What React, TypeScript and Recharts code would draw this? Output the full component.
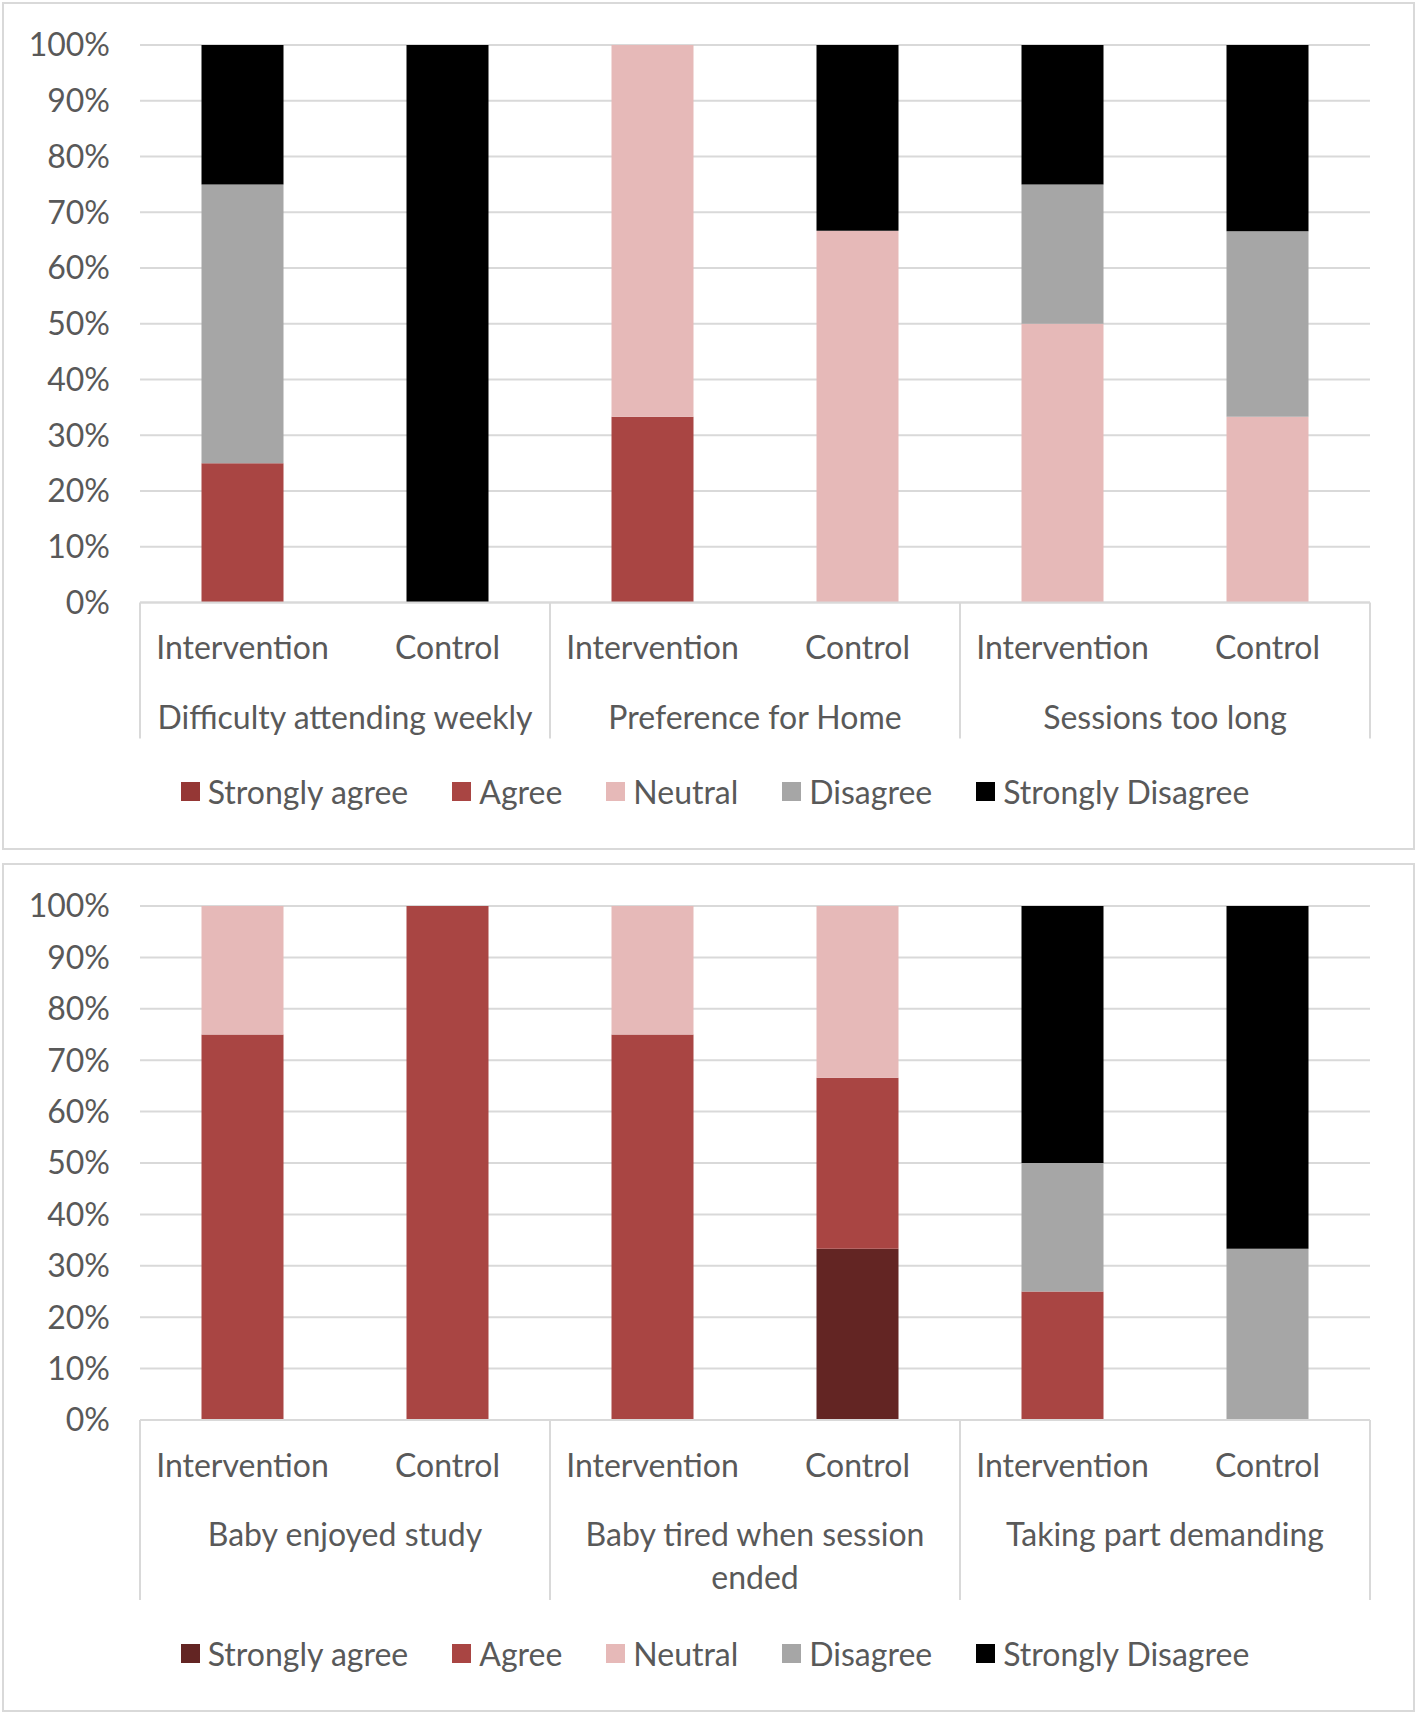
import React from 'react';
import { Bar, BarChart, CartesianGrid, XAxis, YAxis } from 'recharts';

const arms = ['Intervention', 'Control'];
const topGroups = ['Difficulty attending weekly', 'Preference for Home', 'Sessions too long'];
const bottomGroups = ['Baby enjoyed study', 'Baby tired when session\nended', 'Taking part demanding'];

const seriesNames = ['Strongly agree', 'Agree', 'Neutral', 'Disagree', 'Strongly Disagree'];
const topColors = ['#953735', '#A94543', '#E6B9B8', '#A6A6A6', '#000000'];
const bottomColors = ['#632523', '#A94543', '#E6B9B8', '#A6A6A6', '#000000'];

const yTicks = [0, 10, 20, 30, 40, 50, 60, 70, 80, 90, 100];

// bars in order: Int, Ctrl for each group (percent)
const topStronglyAgree = [0, 0, 0, 0, 0, 0];
const topAgree = [25, 0, 33.3, 0, 0, 0];
const topNeutral = [0, 0, 66.7, 66.7, 50, 33.3];
const topDisagree = [50, 0, 0, 0, 25, 33.3];
const topStronglyDisagree = [25, 100, 0, 33.3, 25, 33.4];

const bottomStronglyAgree = [0, 0, 0, 33.3, 0, 0];
const bottomAgree = [75, 100, 75, 33.3, 25, 0];
const bottomNeutral = [25, 0, 25, 33.4, 0, 0];
const bottomDisagree = [0, 0, 0, 0, 25, 33.3];
const bottomStronglyDisagree = [0, 0, 0, 0, 50, 66.7];

const FONT = "Lato, 'Open Sans', sans-serif";
const FS = 32;
const TEXT = '#595959';
const GRID = '#d9d9d9';
const CHART_W = 1418;
const PLOT_LEFT = 140;
const PLOT_RIGHT = 48;
const BAND = (CHART_W - PLOT_LEFT - PLOT_RIGHT) / 6;

function buildRows(groups: string[], series: number[][]) {
  return series[0].map((_, i) => {
    const row: Record<string, any> = {
      key: `b${i}`,
      arm: arms[i % 2],
      group: groups[Math.floor(i / 2)],
    };
    series.forEach((s, j) => {
      row[`s${j}`] = s[i];
    });
    return row;
  });
}

const topRows = buildRows(topGroups, [topStronglyAgree, topAgree, topNeutral, topDisagree, topStronglyDisagree]);
const bottomRows = buildRows(bottomGroups, [
  bottomStronglyAgree,
  bottomAgree,
  bottomNeutral,
  bottomDisagree,
  bottomStronglyDisagree,
]);

function makeTick(rows: Record<string, any>[], sepLen: number) {
  return (props: any) => {
    const { x, y, index } = props;
    const row = rows[index];
    if (!row) return <g />;
    const lines: string[] = row.group.split('\n');
    return (
      <g>
        <text
          x={x}
          y={y + 44}
          textAnchor="middle"
          dominantBaseline="central"
          fill={TEXT}
          fontSize={FS}
          fontFamily={FONT}
        >
          {row.arm}
        </text>
        {index % 2 === 0 && (
          <>
            <line x1={x - BAND / 2} x2={x - BAND / 2} y1={y} y2={y + sepLen} stroke={GRID} strokeWidth={2} />
            <text
              x={x + BAND / 2}
              y={y + 113}
              textAnchor="middle"
              dominantBaseline="central"
              fill={TEXT}
              fontSize={FS}
              fontFamily={FONT}
            >
              {lines.map((l, k) => (
                <tspan key={k} x={x + BAND / 2} dy={k === 0 ? 0 : 43}>
                  {l}
                </tspan>
              ))}
            </text>
          </>
        )}
        {index === rows.length - 1 && (
          <line x1={x + BAND / 2} x2={x + BAND / 2} y1={y} y2={y + sepLen} stroke={GRID} strokeWidth={2} />
        )}
      </g>
    );
  };
}

function Legend({ colors, top }: { colors: string[]; top: number }) {
  return (
    <div
      style={{
        position: 'absolute',
        left: 6,
        top,
        width: CHART_W,
        height: 40,
        display: 'flex',
        alignItems: 'center',
        justifyContent: 'center',
        gap: 44,
        fontFamily: FONT,
        fontSize: FS,
        color: TEXT,
      }}
    >
      {seriesNames.map((n, i) => (
        <div key={n} style={{ display: 'flex', alignItems: 'center' }}>
          <span style={{ width: 19, height: 19, background: colors[i], marginRight: 8, display: 'inline-block' }} />
          <span>{n}</span>
        </div>
      ))}
    </div>
  );
}

function Panel({
  rows,
  colors,
  height,
  bottom,
  sepLen,
}: {
  rows: Record<string, any>[];
  colors: string[];
  height: number;
  bottom: number;
  sepLen: number;
}) {
  return (
    <BarChart
      width={CHART_W}
      height={height}
      data={rows}
      margin={{ top: 45, right: PLOT_RIGHT, left: PLOT_LEFT - 100, bottom }}
      barCategoryGap="30%"
    >
      <CartesianGrid vertical={false} stroke={GRID} strokeWidth={2} />
      <XAxis
        dataKey="key"
        interval={0}
        height={140}
        tickLine={false}
        tickSize={0}
        tickMargin={0}
        axisLine={{ stroke: GRID, strokeWidth: 2 }}
        tick={makeTick(rows, sepLen)}
      />
      <YAxis
        width={100}
        domain={[0, 100]}
        ticks={yTicks}
        tickFormatter={(v: number) => `${v}%`}
        axisLine={false}
        tickLine={false}
        tickSize={0}
        tickMargin={30}
        tick={{ fill: TEXT, fontSize: FS, fontFamily: FONT }}
      />
      {seriesNames.map((n, j) => (
        <Bar key={n} dataKey={`s${j}`} name={n} stackId="a" fill={colors[j]} isAnimationActive={false} />
      ))}
    </BarChart>
  );
}

export default function App() {
  return (
    <div style={{ position: 'absolute', left: 0, top: 0, width: 1418, height: 1714, background: '#fff' }}>
      <div
        style={{
          position: 'absolute',
          left: 2,
          top: 2,
          width: 1413,
          height: 848,
          border: `2px solid ${GRID}`,
          boxSizing: 'border-box',
        }}
      />
      <div
        style={{
          position: 'absolute',
          left: 2,
          top: 863,
          width: 1413,
          height: 849,
          border: `2px solid ${GRID}`,
          boxSizing: 'border-box',
        }}
      />
      <div style={{ position: 'absolute', left: 0, top: 0 }}>
        <Panel rows={topRows} colors={topColors} height={850} bottom={107.5} sepLen={136} />
      </div>
      <div style={{ position: 'absolute', left: 0, top: 861 }}>
        <Panel rows={bottomRows} colors={bottomColors} height={853} bottom={154} sepLen={180} />
      </div>
      <Legend colors={topColors} top={771} />
      <Legend colors={bottomColors} top={1633} />
    </div>
  );
}
